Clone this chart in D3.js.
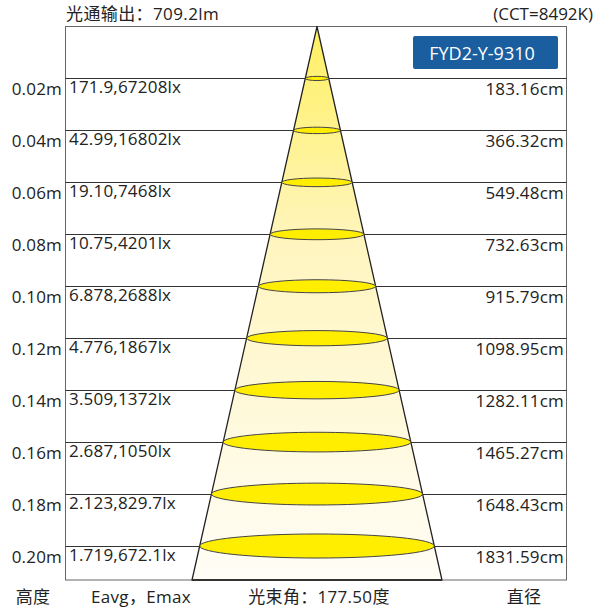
<!DOCTYPE html>
<html>
<head>
<meta charset="utf-8">
<script src="https://cdn.jsdelivr.net/npm/d3@7"></script>
<style>
  body { margin: 0; background: #fff; }
  text { font-family: "Open Sans", "Noto Sans CJK SC", sans-serif; fill: #222; }
</style>
</head>
<body>
<div id="chart"></div>
<script>
// data
var heights = [0.02, 0.04, 0.06, 0.08, 0.10, 0.12, 0.14, 0.16, 0.18, 0.20];
var heightLabels = ['0.02m','0.04m','0.06m','0.08m','0.10m','0.12m','0.14m','0.16m','0.18m','0.20m'];
var illum = ['171.9,67208lx','42.99,16802lx','19.10,7468lx','10.75,4201lx','6.878,2688lx',
             '4.776,1867lx','3.509,1372lx','2.687,1050lx','2.123,829.7lx','1.719,672.1lx'];
var diameters = [183.16, 366.32, 549.48, 732.63, 915.79, 1098.95, 1282.11, 1465.27, 1648.43, 1831.59];
var diamLabels = ['183.16cm','366.32cm','549.48cm','732.63cm','915.79cm','1098.95cm',
                  '1282.11cm','1465.27cm','1648.43cm','1831.59cm'];
var footer = ['高度', 'Eavg，Emax', '光束角：177.50度', '直径'];
var lumen = '光通输出：709.2lm';
var cct = '(CCT=8492K)';
var model = 'FYD2-Y-9310';

var W = 614, H = 609;
var box = {left: 65.5, right: 566.5, top: 26.5, bottom: 580};
var cx = 317;
var fs = '17px';

var svg = d3.select('#chart').append('svg')
  .attr('width', W)
  .attr('height', H);

var y = d3.scaleLinear().domain([0, 0.2]).range([box.top, 546]);
// half-width of the beam at a given diameter
var r = d3.scaleLinear().domain([0, 1831.59]).range([0, 117.3]);
var hMax = y.invert(box.bottom);
var dMax = 1831.59 / 0.2 * hMax;

var defs = svg.append('defs');
var grad = defs.append('linearGradient')
  .attr('id', 'beam').attr('x1', 0).attr('x2', 0).attr('y1', 0).attr('y2', 1);
grad.append('stop').attr('offset', '0%').attr('stop-color', '#fff062');
grad.append('stop').attr('offset', '40%').attr('stop-color', '#fff5c0');
grad.append('stop').attr('offset', '100%').attr('stop-color', '#fffdf6');

// frame
svg.append('rect')
  .attr('x', box.left).attr('y', box.top)
  .attr('width', box.right - box.left).attr('height', box.bottom - box.top)
  .attr('fill', 'none').attr('stroke', '#666').attr('stroke-width', 1);

// grid lines at each height
svg.append('g').selectAll('line')
  .data(heights)
  .join('line')
  .attr('x1', box.left).attr('x2', box.right)
  .attr('y1', function(d){ return Math.round(y(d)) + 0.5; })
  .attr('y2', function(d){ return Math.round(y(d)) + 0.5; })
  .attr('stroke', '#333').attr('stroke-width', 1);

// beam cone
svg.append('path')
  .attr('d', 'M' + cx + ',' + y(0) +
    'L' + (cx - r(dMax)) + ',' + box.bottom +
    'L' + (cx + r(dMax)) + ',' + box.bottom + 'Z')
  .attr('fill', 'url(#beam)')
  .attr('stroke', '#222').attr('stroke-width', 1.3)
  .attr('stroke-linejoin', 'round');

svg.append('line')
  .attr('x1', cx - r(dMax)).attr('x2', cx + r(dMax))
  .attr('y1', box.bottom).attr('y2', box.bottom)
  .attr('stroke', '#333').attr('stroke-width', 2.2);

// light spots
svg.append('g').selectAll('ellipse')
  .data(diameters)
  .join('ellipse')
  .attr('cx', cx)
  .attr('cy', function(d, i){ return y(heights[i]); })
  .attr('rx', function(d){ return r(d); })
  .attr('ry', function(d){ return 1 + r(d) * 0.094; })
  .attr('fill', '#ffee00')
  .attr('stroke', '#444').attr('stroke-width', 1);

// labels
svg.append('g').selectAll('text')
  .data(heightLabels)
  .join('text')
  .attr('x', 62).attr('y', function(d, i){ return y(heights[i]) + 17; })
  .attr('text-anchor', 'end')
  .style('font-size', fs).style('letter-spacing', '0.2px')
  .text(function(d){ return d; });

svg.append('g').selectAll('text')
  .data(illum)
  .join('text')
  .attr('x', 69).attr('y', function(d, i){ return y(heights[i]) + 15; })
  .style('font-size', fs).style('letter-spacing', '0.2px')
  .text(function(d){ return d; });

svg.append('g').selectAll('text')
  .data(diamLabels)
  .join('text')
  .attr('x', 564).attr('y', function(d, i){ return y(heights[i]) + 17; })
  .attr('text-anchor', 'end')
  .style('font-size', fs).style('letter-spacing', '0.2px')
  .text(function(d){ return d; });

svg.append('text')
  .attr('x', 66).attr('y', 20)
  .style('font-size', fs).style('letter-spacing', '0.4px')
  .text(lumen);

svg.append('text')
  .attr('x', 593).attr('y', 20)
  .attr('text-anchor', 'end')
  .style('font-size', fs)
  .text(cct);

// model badge
svg.append('rect')
  .attr('x', 413).attr('y', 36)
  .attr('width', 145).attr('height', 33)
  .attr('rx', 2)
  .attr('fill', '#1a5e9f');
svg.append('text')
  .attr('x', 482).attr('y', 59.5)
  .attr('text-anchor', 'middle')
  .style('font-size', '18px')
  .style('fill', '#fff')
  .text(model);

// footer
var footX = [33, 141, 319, 524];
svg.append('g').selectAll('text')
  .data(footer)
  .join('text')
  .attr('x', function(d, i){ return footX[i]; })
  .attr('y', 603)
  .attr('text-anchor', 'middle')
  .style('font-size', fs).style('letter-spacing', '0.3px')
  .text(function(d){ return d; });
</script>
</body>
</html>
